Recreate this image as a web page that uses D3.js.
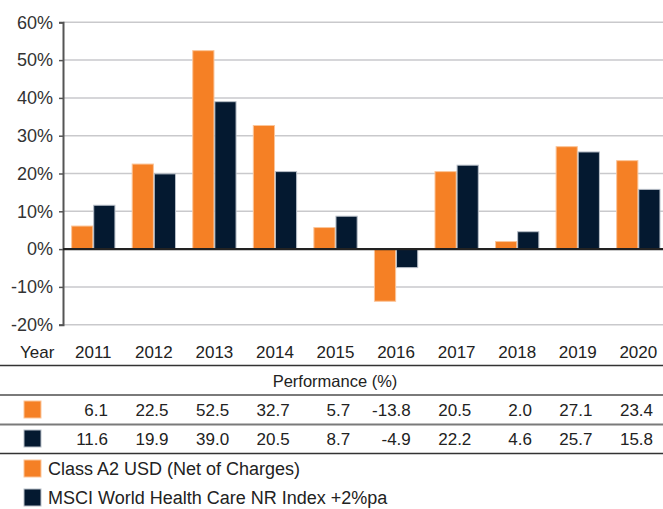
<!DOCTYPE html>
<html>
<head>
<meta charset="utf-8">
<script src="https://cdn.jsdelivr.net/npm/d3@7"></script>
<style>
  html, body { margin: 0; padding: 0; background: #fff; }
  svg { display: block; font-family: "Liberation Sans", Arial, sans-serif; }
  .tick-label { font-size: 18px; fill: #333; }
</style>
</head>
<body>
<svg id="chart" width="663" height="509"></svg>
<script>
// Data
const years = ["2011", "2012", "2013", "2014", "2015", "2016", "2017", "2018", "2019", "2020"];
const classA2 = [6.1, 22.5, 52.5, 32.7, 5.7, -13.8, 20.5, 2.0, 27.1, 23.4];
const msci = [11.6, 19.9, 39.0, 20.5, 8.7, -4.9, 22.2, 4.6, 25.7, 15.8];
const yTicks = [-20, -10, 0, 10, 20, 30, 40, 50, 60];
const seriesNames = ["Class A2 USD (Net of Charges)", "MSCI World Health Care NR Index +2%pa"];
const colors = ["#f58025", "#041930"];

const W = 663;
const plotLeft = 63;
const svg = d3.select("#chart");

const x = d3.scaleBand()
  .domain(years)
  .range([plotLeft, 668.6])
  .paddingInner(0.285)
  .paddingOuter(0.1425);

const sub = d3.scaleBand()
  .domain([0, 1])
  .range([0, x.bandwidth()])
  .paddingInner(0.04);

const y = d3.scaleLinear()
  .domain([-20, 60])
  .range([324.7, 22.3]);

// Grid lines
svg.append("g")
  .selectAll("line")
  .data(yTicks.filter(d => d !== 0))
  .enter()
  .append("line")
  .attr("x1", plotLeft)
  .attr("x2", W)
  .attr("y1", d => y(d))
  .attr("y2", d => y(d))
  .attr("stroke", "#c9c9cc")
  .attr("stroke-width", 1.5);

// Y axis
const yAxis = svg.append("g")
  .attr("transform", `translate(${plotLeft},0)`)
  .call(d3.axisLeft(y).tickValues(yTicks).tickSize(4).tickPadding(6).tickFormat(d => d + "%"));
yAxis.select(".domain").attr("stroke", "#555").attr("stroke-width", 2);
yAxis.selectAll(".tick line").attr("stroke", "#555").attr("stroke-width", 1.5);
yAxis.selectAll("text")
  .attr("class", "tick-label")
  .attr("font-family", null)
  .attr("font-size", null)
  .attr("fill", "#333");

// Bars
const groups = svg.append("g")
  .selectAll("g")
  .data(years)
  .enter()
  .append("g")
  .attr("transform", d => `translate(${x(d)},0)`);

groups.selectAll("rect")
  .data((d, i) => [classA2[i], msci[i]])
  .enter()
  .append("rect")
  .attr("x", (d, j) => sub(j))
  .attr("width", sub.bandwidth())
  .attr("y", d => y(Math.max(0, d)))
  .attr("height", d => Math.abs(y(d) - y(0)))
  .attr("fill", (d, j) => colors[j])
  .attr("stroke", (d, j) => j === 0 ? "#fbc59a" : "#b8bfc8")
  .attr("stroke-width", 1);

// Zero line
svg.append("line")
  .attr("x1", plotLeft)
  .attr("x2", W)
  .attr("y1", y(0))
  .attr("y2", y(0))
  .attr("stroke", "#222")
  .attr("stroke-width", 2.2);

// Table below the chart
const table = svg.append("g").attr("fill", "#222").style("font-size", "17px");

table.append("text")
  .attr("x", 20)
  .attr("y", 358)
  .text("Year");

table.selectAll(".year")
  .data(years)
  .enter()
  .append("text")
  .attr("class", "year")
  .attr("x", d => x(d) + x.bandwidth() / 2)
  .attr("y", 358)
  .attr("text-anchor", "middle")
  .text(d => d);

const rules = [
  { y: 365.5, c: "#333", w: 1.5 },
  { y: 395, c: "#7a7a7a", w: 2 },
  { y: 424.5, c: "#7a7a7a", w: 2 },
  { y: 453.5, c: "#333", w: 1.5 }
];
svg.append("g")
  .selectAll("line")
  .data(rules)
  .enter()
  .append("line")
  .attr("x1", 0)
  .attr("x2", W)
  .attr("y1", d => d.y)
  .attr("y2", d => d.y)
  .attr("stroke", d => d.c)
  .attr("stroke-width", d => d.w);

table.append("text")
  .attr("x", 335)
  .attr("y", 387)
  .attr("text-anchor", "middle")
  .style("font-size", "16.5px")
  .text("Performance (%)");

const rows = [classA2, msci];
const rowY = [416, 445];
rows.forEach((vals, r) => {
  table.append("rect")
    .attr("x", 24)
    .attr("y", rowY[r] - 15)
    .attr("width", 17)
    .attr("height", 17)
    .attr("fill", colors[r])
    .attr("stroke", r === 0 ? "#fbc59a" : "#b8bfc8")
    .attr("stroke-width", 1);
  table.selectAll(".v" + r)
    .data(vals)
    .enter()
    .append("text")
    .attr("x", (d, i) => x(years[i]) + x.bandwidth() / 2 + 14.7)
    .attr("y", rowY[r])
    .attr("text-anchor", "end")
    .text(d => d.toFixed(1));
});

// Legend
const legendY = [475, 504];
seriesNames.forEach((name, i) => {
  const g = svg.append("g").attr("transform", `translate(24,${legendY[i]})`);
  g.append("rect")
    .attr("x", 0)
    .attr("y", -15)
    .attr("width", 17)
    .attr("height", 17)
    .attr("fill", colors[i])
    .attr("stroke", i === 0 ? "#fbc59a" : "#b8bfc8")
    .attr("stroke-width", 1);
  g.append("text")
    .attr("x", 24)
    .attr("y", 0)
    .attr("fill", "#222")
    .style("font-size", "18px")
    .text(name);
});
</script>
</body>
</html>
